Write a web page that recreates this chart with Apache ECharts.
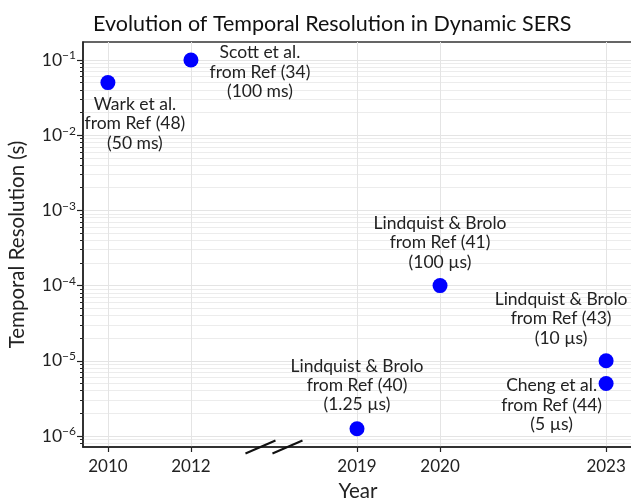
<!DOCTYPE html>
<html><head><meta charset="utf-8">
<script src="https://cdn.jsdelivr.net/npm/echarts@6/dist/echarts.min.js"></script>
<style>html,body{margin:0;padding:0;background:#fff}#c{width:631px;height:500px}</style>
</head><body><div id="c"></div>
<script>
const xCategories = ['2010', '2012', '//', '2019', '2020', '', '2023'];
const years = ['2010', '2012', '2019', '2020', '2023', '2023'];
const resolutions = [0.05, 0.1, 1.25e-6, 1e-4, 1e-5, 5e-6];
const pointLabels = [
  'Wark et al.\nfrom Ref (48)\n(50 ms)',
  'Scott et al.\nfrom Ref (34)\n(100 ms)',
  'Lindquist & Brolo\nfrom Ref (40)\n(1.25 µs)',
  'Lindquist & Brolo\nfrom Ref (41)\n(100 µs)',
  'Lindquist & Brolo\nfrom Ref (43)\n(10 µs)',
  'Cheng et al.\nfrom Ref (44)\n(5 µs)'
];
const yMajorTicks = [1e-6, 1e-5, 1e-4, 1e-3, 1e-2, 1e-1];
const yTickExponents = ['−6', '−5', '−4', '−3', '−2', '−1'];

const FONT = 'Lato, "Noto Sans", sans-serif';
const yMin = 7.14e-7, yMax = 0.1734;
const labelOffsets = [[27, 41], [69, 12], [0, -43.5], [0, -43], [-45, -42], [-54.5, 21.5]];

const yMinorTicks = [];
for (let e = -7; e <= -1; e++) for (let k = 2; k <= 9; k++) {
  const v = k * Math.pow(10, e);
  if (v > yMin && v < yMax) yMinorTicks.push(v);
}
const xTickIdx = xCategories.map((c, i) => /^\d{4}$/.test(c) ? i : -1).filter(i => i >= 0);
const breakIdx = xCategories.indexOf('//');

const chart = echarts.init(document.getElementById('c'), null, {renderer: 'canvas'});
chart.setOption({
  animation: false,
  backgroundColor: '#fff',
  textStyle: {fontFamily: FONT},
  title: {
    text: 'Evolution of Temporal Resolution in Dynamic SERS',
    left: 88, top: 8.5,
    textStyle: {fontFamily: FONT, fontSize: 21.5, fontWeight: 'normal', color: '#111'}
  },
  grid: {left: 83, top: 42, right: -2, bottom: 53, outerBoundsMode: 'none', show: true, borderColor: '#333', borderWidth: 1.5, backgroundColor: 'transparent'},
  xAxis: {
    type: 'value', min: -0.3, max: 6.324,
    name: 'Year', nameLocation: 'middle', nameGap: 34,
    nameTextStyle: {fontFamily: FONT, fontSize: 20.5, color: '#222'},
    axisLine: {show: true, onZero: false, lineStyle: {color: '#222', width: 1.5}},
    axisTick: {show: true, customValues: xTickIdx, length: 5, lineStyle: {color: '#222', width: 1.2}},
    axisLabel: {customValues: xTickIdx, formatter: v => xCategories[Math.round(v)], fontFamily: FONT, fontSize: 17, color: '#222', margin: 11},
    splitLine: {show: true, lineStyle: {color: '#e4e4e4', width: 1}}
  },
  yAxis: [{
    type: 'log', logBase: 10, min: yMin, max: yMax,
    name: 'Temporal Resolution (s)', nameLocation: 'middle', nameGap: 55,
    nameTextStyle: {fontFamily: FONT, fontSize: 20.5, color: '#222'},
    axisLine: {show: true, onZero: false, lineStyle: {color: '#222', width: 1.5}},
    axisTick: {show: true, customValues: yMajorTicks, length: 6, lineStyle: {color: '#222', width: 1.2}},
    axisLabel: {
      customValues: yMajorTicks, margin: 7,
      formatter: v => {
        const i = yMajorTicks.findIndex(t => Math.abs(Math.log10(t) - Math.log10(v)) < 1e-6);
        return '{b|10}{s|' + yTickExponents[i] + '}';
      },
      rich: {
        b: {fontFamily: FONT, fontSize: 17.5, color: '#222'},
        s: {fontFamily: FONT, fontSize: 12, color: '#222', padding: [0, 0, 9, 0]}
      }
    },
    splitLine: {show: true, lineStyle: {color: '#e4e4e4', width: 1}}
  }, {
    type: 'log', logBase: 10, min: yMin, max: yMax, position: 'left', offset: 0,
    axisLine: {show: false, onZero: false},
    axisTick: {show: true, customValues: yMinorTicks, length: 3, lineStyle: {color: '#222', width: 1}},
    axisLabel: {show: false, customValues: yMinorTicks},
    splitLine: {show: true, lineStyle: {color: '#ececec', width: 1}}
  }],
  series: [{
    type: 'scatter',
    symbol: 'circle', symbolSize: 15,
    itemStyle: {color: '#0000ff', opacity: 1},
    z: 5,
    data: years.map((y, i) => ({
      value: [xCategories.indexOf(y), resolutions[i]],
      label: {
        show: true, position: 'inside', offset: labelOffsets[i],
        formatter: pointLabels[i], align: 'center', verticalAlign: 'middle',
        fontFamily: FONT, fontSize: 17.5, lineHeight: 19.3, color: '#222'
      }
    }))
  }, {
    type: 'custom', coordinateSystem: 'cartesian2d', silent: true, clip: false, z: 10,
    data: [[breakIdx, yMin]],
    renderItem: (params, api) => {
      const p = api.coord([api.value(0), api.value(1)]);
      const mk = dx => ({type: 'line', shape: {x1: p[0] + dx - 15, y1: p[1] + 6.5, x2: p[0] + dx + 15, y2: p[1] - 6.5}, style: {stroke: '#111', lineWidth: 2}});
      return {type: 'group', children: [mk(-13.5), mk(13.5)]};
    }
  }]
});
</script></body></html>
